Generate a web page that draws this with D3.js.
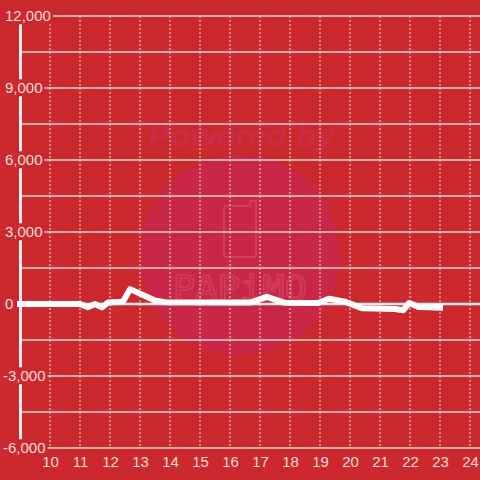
<!DOCTYPE html>
<html>
<head>
<meta charset="utf-8">
<script src="https://cdn.jsdelivr.net/npm/d3@7"></script>
<style>
html,body{margin:0;padding:0;background:#cc292e;}
svg{display:block;}
</style>
</head>
<body>
<svg id="chart" width="480" height="480"></svg>
<script>
// ---- data ----
const hours  = [8.9, 11.0, 11.27, 11.5, 11.73, 11.93, 12.43, 12.67, 13.5, 13.83, 16.67, 17.23, 17.83, 18.93, 19.3, 19.83, 20.4, 21.5, 21.77, 21.97, 22.3, 23.1];
const values = [0, 0, -130, 0, -140, 60, 90, 620, 150, 70, 60, 300, 50, 40, 220, 100, -180, -210, -260, 40, -130, -160];
const xTicks = [10, 11, 12, 13, 14, 15, 16, 17, 18, 19, 20, 21, 22, 23, 24];
const yTicks = [-6000, -3000, 0, 3000, 6000, 9000, 12000];
const yGrid  = [-6000, -4500, -3000, -1500, 0, 1500, 3000, 4500, 6000, 7500, 9000, 10500, 12000];

const bg = "#cc292e";
const svg = d3.select("#chart");
svg.append("rect").attr("width", 480).attr("height", 480).attr("fill", bg);

const x = d3.scaleLinear().domain([10, 24]).range([50, 470]);
const y = d3.scaleLinear().domain([-6000, 12000]).range([448, 16]);
const axisX = 20.5;

// ---- watermark ----
const wm = svg.append("g");
wm.append("circle").attr("cx", 240).attr("cy", 255).attr("r", 100).attr("fill", "#c82748");
wm.append("text").attr("x", 148).attr("y", 146)
  .attr("font-family", "Liberation Sans, Arial, sans-serif").attr("font-weight", "bold")
  .attr("font-style", "italic").attr("font-size", 30)
  .attr("textLength", 187).attr("lengthAdjust", "spacingAndGlyphs")
  .attr("fill", "#cd2c47").text("Powered by");
wm.append("path")
  .attr("d", "M227,206 L250,206 L250,201 L256,201 L256,254 Q256,257 253,257 L227,257 Q224,257 224,254 L224,209 Q224,206 227,206 Z")
  .attr("fill", "none").attr("stroke", "#d23d58").attr("stroke-width", 2);
wm.append("text").attr("x", 173).attr("y", 300)
  .attr("font-family", "DejaVu Sans Mono, monospace").attr("font-size", 34)
  .attr("textLength", 134).attr("lengthAdjust", "spacingAndGlyphs")
  .attr("fill", "none").attr("stroke", "#d23d58").attr("stroke-width", 1.6)
  .text("PAPiMO");

// ---- grid ----
svg.append("g").selectAll("line").data(xTicks).join("line")
  .attr("x1", d => x(d)).attr("x2", d => x(d))
  .attr("y1", y(12000)).attr("y2", y(-6000))
  .attr("stroke", "#e0dede").attr("stroke-width", 1).attr("stroke-dasharray", "2,2");

svg.append("g").selectAll("line").data(yGrid).join("line")
  .attr("x1", axisX).attr("x2", 480)
  .attr("y1", d => y(d)).attr("y2", d => y(d))
  .attr("stroke", "#d6d3d3").attr("stroke-width", 1.5);

// zero line
svg.append("line").attr("x1", axisX).attr("x2", 480).attr("y1", y(0)).attr("y2", y(0))
  .attr("stroke", "#f2eeee").attr("stroke-width", 2.5);

// y axis line
svg.append("line").attr("x1", axisX).attr("x2", axisX).attr("y1", y(12000)).attr("y2", y(-6000))
  .attr("stroke", "#f2eeee").attr("stroke-width", 3);

// ---- data line ----
const pts = hours.map((h, i) => [h, values[i]]);
svg.append("path").datum(pts)
  .attr("d", d3.line().x(d => x(d[0])).y(d => y(d[1])))
  .attr("fill", "none").attr("stroke", "#ffffff").attr("stroke-width", 6)
  .attr("stroke-linejoin", "round");

// ---- axes labels ----
const fmt = v => d3.format(",")(v).replace("\u2212", "-");
const gy = svg.append("g").attr("transform", "translate(5,0)")
  .call(d3.axisRight(y).tickValues(yTicks).tickSize(0).tickPadding(0).tickFormat(fmt));
gy.select(".domain").remove();
gy.selectAll("text").attr("fill", "#f4dcdc").attr("font-size", 15)
  .attr("font-family", "Liberation Sans, Arial, sans-serif").attr("text-anchor", "start");
gy.selectAll(".tick").each(function(d) {
  const t = d3.select(this).select("text");
  if (d < 0) t.attr("x", -2);
  const b = t.node().getBBox();
  d3.select(this).insert("rect", "text")
    .attr("x", b.x - 2).attr("y", b.y).attr("width", b.width + 4).attr("height", b.height)
    .attr("fill", bg);
});

const gx = svg.append("g").attr("transform", `translate(0,${y(-6000)})`)
  .call(d3.axisBottom(x).tickValues(xTicks).tickSize(0).tickPadding(8).tickFormat(d3.format("d")));
gx.select(".domain").remove();
gx.selectAll("text").attr("fill", "#f4dcdc").attr("font-size", 15)
  .attr("font-family", "Liberation Sans, Arial, sans-serif");
</script>
</body>
</html>
